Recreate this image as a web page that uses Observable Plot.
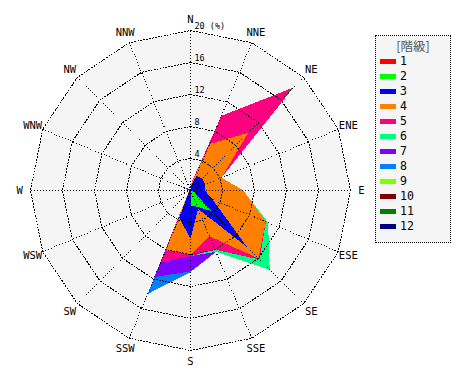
<!DOCTYPE html>
<html><head><meta charset="utf-8">
<script src="https://cdn.jsdelivr.net/npm/d3@7"></script>
<script src="https://cdn.jsdelivr.net/npm/@observablehq/plot@0.6"></script>
<style>
body{margin:0;background:#fff;}
#wrap{position:relative;width:470px;height:380px;}
#legend{position:absolute;left:375px;top:35px;width:74px;height:206px;border:1px dotted #000;background:#f5f5f5;font-family:"DejaVu Sans Mono",monospace;font-size:11.5px;color:#000;}
#legend .title{position:absolute;left:0;width:74px;top:0px;text-align:center;font-family:"Noto Sans CJK JP","DejaVu Sans Mono",monospace;font-size:12.5px;color:#555;}
#legend .row{position:absolute;left:4px;height:14px;line-height:14px;}
#legend .sw{display:inline-block;width:16px;height:5px;vertical-align:middle;margin-right:4px;}
</style></head><body><div id="wrap"></div>
<script>
const directions = ["N","NNE","NE","ENE","E","ESE","SE","SSE","S","SSW","SW","WSW","W","WNW","NW","NNW"];
const classes = ["1","2","3","4","5","6","7","8","9","10","11","12"];
const classColors = ["#ff0000","#00ff00","#0000ff","#ff8000","#ff0080","#00ff80","#8000ff","#0080ff","#80ff00","#800000","#008000","#000080"];
// frequency (%) of each class per direction, N..NNW
const class1  = [0,0,0,0,0,0,2.3,0,0,0,0,0,0,0,0,0];
const class2  = [0,1.8,0,0,0.2,0.5,1.3,2.2,1.9,0,0,0,0,0,0,0];
const class3  = [0.5,0.2,2.1,2.0,1.6,2.5,6.4,0.3,4.1,3.7,0.3,0,0,0,0,0];
const class4  = [0.1,4.3,8.1,2.2,4.8,7.2,2.0,3.7,2.0,4.4,0.1,0,0,0,0,0];
const class5  = [0.1,3.8,8.0,0,0,0,0.2,1.8,0.2,1.6,0,0,0,0,0,0];
const class6  = [0,0,0,0,0,0.3,1.8,0.3,0,0,0,0,0,0,0,0];
const class7  = [0,0,0,0,0,0,0,0,1.9,2.0,0,0,0,2.2,0.3,0];
const class8  = [0,0,0,0,0,0,0,0,0.1,2.3,0,0,0,0,0,0];
const class9  = [0,0,0,0,0,0,0,0,0,0,0,0,0,0,0,0];
const class10 = [0,0,0,0,0,0,0,0,0,0,0,0,0,0,0,0];
const class11 = [0,0,0,0,0,0,0,0,0,0,0,0,0,0,0,0];
const class12 = [0,0,0,0,0,0,0,0,0,0,0,0,0,0,0,0];
const ringTicks = [4,8,12,16,20];
const ringLabels = ["0","4","8","12","16","20 (%)"];
const ringLabelValues = [0,4,8,12,16,20];

const series = [class1,class2,class3,class4,class5,class6,class7,class8,class9,class10,class11,class12];
const ang = directions.map((d,i)=> i*Math.PI*2/directions.length);
const cum = [];
let acc = directions.map(()=>0);
series.forEach(s => { acc = acc.map((a,i)=>a+s[i]); cum.push(acc.slice()); });

const poly = (vals) => vals.map((v,i)=>({x: v*Math.sin(ang[i]), y: v*Math.cos(ang[i])}));
const rmax = 20;

const marks = [];
marks.push(Plot.line(poly(directions.map(()=>rmax)), {x:"x",y:"y",fill:"#f5f5f5",stroke:"none",curve:"linear-closed"}));
for (let k = classes.length-1; k >= 0; k--) {
  marks.push(Plot.line(poly(cum[k]), {x:"x",y:"y",fill:classColors[k],stroke:"none",curve:"linear-closed",shapeRendering:"crispEdges"}));
}
ringTicks.forEach(r => {
  marks.push(Plot.line(poly(directions.map(()=>r)), {x:"x",y:"y",stroke:"#000",strokeWidth:1,strokeDasharray:"1,2",curve:"linear-closed",fill:"none",shapeRendering:"crispEdges"}));
});
marks.push(Plot.link(directions, {x1: ()=>0, y1: ()=>0, x2: (d,i)=>rmax*Math.sin(ang[i]), y2: (d,i)=>rmax*Math.cos(ang[i]), stroke:"#000", strokeWidth:1, strokeDasharray:"1,2", shapeRendering:"crispEdges"}));
marks.push(Plot.text(directions, {x:(d,i)=>21.35*Math.sin(ang[i]), y:(d,i)=>21.35*Math.cos(ang[i]), text:d=>d, fontSize:10.5, fontFamily:"DejaVu Sans Mono", fill:"#000", textAnchor:"middle", lineAnchor:"middle"}));
marks.push(Plot.text(ringLabels, {x:()=>0, y:(d,i)=>ringLabelValues[i], text:d=>d, dx:4, dy:-4, textAnchor:"start", fontSize:8.5, fontFamily:"DejaVu Sans Mono", fill:"#000"}));

const chart = Plot.plot({
  width: 470, height: 380,
  x: {domain:[-20,20], range:[30,350], axis:null},
  y: {domain:[-20,20], range:[350,30], axis:null},
  style: {background:"#fff", overflow:"visible"},
  marks
});
const wrap = document.getElementById("wrap");
wrap.appendChild(chart);

const legend = document.createElement("div");
legend.id = "legend";
const t = document.createElement("div");
t.className = "title"; t.textContent = "[階級]";
legend.appendChild(t);
classes.forEach((c,i) => {
  const row = document.createElement("div");
  row.className = "row";
  row.style.top = (18 + i*15) + "px";
  const sw = document.createElement("span");
  sw.className = "sw"; sw.style.background = classColors[i];
  row.appendChild(sw);
  row.appendChild(document.createTextNode(c));
  legend.appendChild(row);
});
wrap.appendChild(legend);
</script></body></html>
